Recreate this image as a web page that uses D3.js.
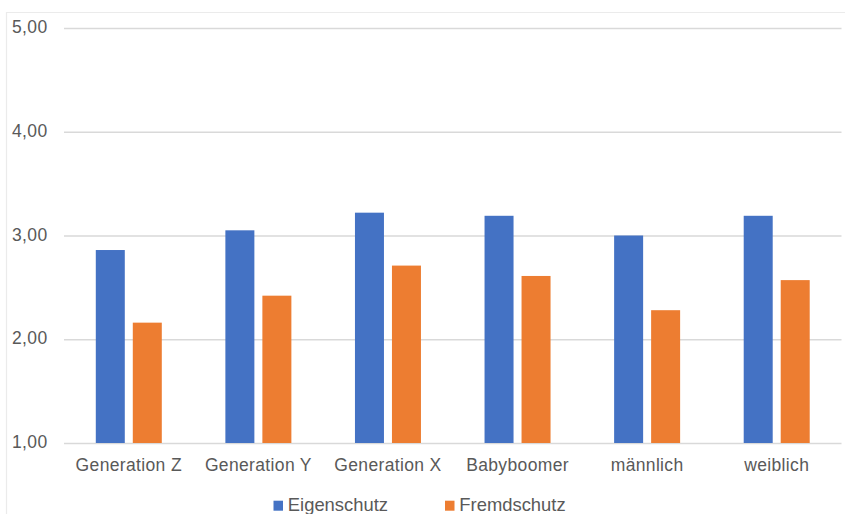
<!DOCTYPE html>
<html>
<head>
<meta charset="utf-8">
<script src="https://cdn.jsdelivr.net/npm/d3@7"></script>
<style>
  html, body { margin: 0; padding: 0; background: #ffffff; }
  svg { display: block; }
</style>
</head>
<body>
<svg id="chart" width="845" height="514"></svg>
<script>
const categories = ["Generation Z", "Generation Y", "Generation X", "Babyboomer", "männlich", "weiblich"];
const seriesNames = ["Eigenschutz", "Fremdschutz"];
const eigenschutz = [2.86, 3.05, 3.22, 3.19, 3.00, 3.19];
const fremdschutz = [2.16, 2.42, 2.71, 2.61, 2.28, 2.57];
const yTicks = [1, 2, 3, 4, 5];
const colors = ["#4472C4", "#ED7D31"];

const seriesValues = [eigenschutz, fremdschutz];
const svg = d3.select("#chart");
const fmt = v => d3.format(".2f")(v).replace(".", ",");

// frame of the chart area
svg.append("path")
  .attr("d", "M6.5,514 L6.5,12.5 L845,12.5")
  .attr("fill", "none")
  .attr("stroke", "#ebebeb")
  .attr("stroke-width", 1.2);

const y = d3.scaleLinear().domain([1, 5]).range([443, 28]);
const x0 = d3.scaleBand().domain(categories).range([64, 841.5]).padding(0);
const groupW = 66;
const x1 = d3.scaleBand().domain(seriesNames)
  .range([(x0.bandwidth() - groupW) / 2, (x0.bandwidth() + groupW) / 2])
  .paddingInner(8 / 37).paddingOuter(0);

// gridlines
const yAxis = d3.axisLeft(y).tickValues(yTicks).tickSize(-(841.5 - 64)).tickFormat(fmt).tickPadding(16.5);
const gy = svg.append("g").attr("transform", "translate(64,0)").call(yAxis);
gy.select(".domain").remove();
gy.selectAll(".tick line").attr("stroke", "#d9d9d9").attr("stroke-width", 1.6);
gy.selectAll(".tick text")
  .attr("fill", "#595959")
  .attr("font-family", "'Liberation Sans', Arial, sans-serif")
  .attr("font-size", "17.5px")
  .attr("letter-spacing", "0.35px")
  .attr("dy", "0.27em");

// bars
const groups = svg.append("g").selectAll("g")
  .data(categories)
  .join("g")
  .attr("transform", d => `translate(${x0(d)},0)`);

groups.selectAll("rect")
  .data((d, i) => seriesNames.map((s, j) => ({ s, v: seriesValues[j][i], j })))
  .join("rect")
  .attr("x", d => x1(d.s))
  .attr("width", x1.bandwidth())
  .attr("y", d => y(d.v))
  .attr("height", d => y(1) - y(d.v))
  .attr("fill", d => colors[d.j]);

// x labels
const xAxis = d3.axisBottom(x0).tickSize(0).tickPadding(15.3);
const gx = svg.append("g").attr("transform", `translate(0,${y(1)})`).call(xAxis);
gx.select(".domain").remove();
gx.selectAll(".tick text")
  .attr("fill", "#595959")
  .attr("font-family", "'Liberation Sans', Arial, sans-serif")
  .attr("font-size", "17.5px")
  .attr("letter-spacing", "0.35px");

// legend
const legendX = [273.5, 445];
const leg = svg.append("g").selectAll("g")
  .data(seriesNames)
  .join("g")
  .attr("transform", (d, i) => `translate(${legendX[i]},0)`);
leg.append("rect")
  .attr("x", 0).attr("y", 500.7).attr("width", 9.5).attr("height", 10)
  .attr("fill", (d, i) => colors[i]);
leg.append("text")
  .attr("x", 14.3).attr("y", 510.7)
  .attr("fill", "#595959")
  .attr("font-family", "'Liberation Sans', Arial, sans-serif")
  .attr("font-size", "18.4px")
  .text(d => d);
</script>
</body>
</html>
